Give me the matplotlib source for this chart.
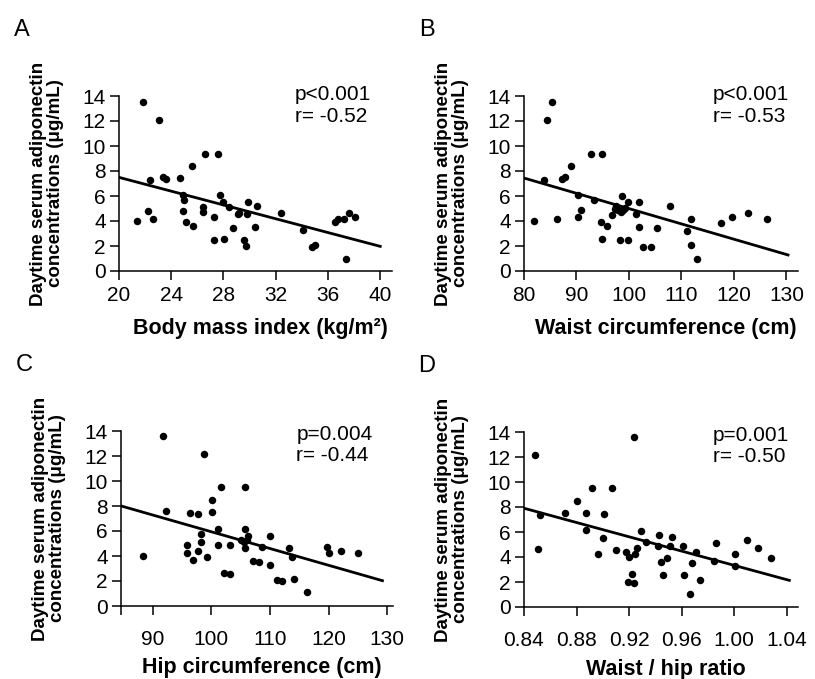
import numpy as np
import matplotlib
matplotlib.use('Agg')
import matplotlib.pyplot as plt

plt.rcParams['font.family'] = ['Liberation Sans', 'DejaVu Sans']

# panel A - body mass index
bmi = [21.8, 23.1, 21.4, 22.2, 22.6, 22.35, 23.4, 23.6, 24.7, 24.9, 25.0, 24.9, 25.1, 25.7, 25.6,
       26.4, 26.4, 26.6, 27.3, 27.3, 27.6, 27.7, 28.0, 28.4, 28.05, 28.7, 29.1, 29.2, 29.6, 29.7,
       29.8, 29.9, 30.4, 30.6, 32.4, 34.1, 34.8, 35.0, 36.5, 36.8, 37.2, 37.6, 38.1, 37.4]
adipo_a = [13.5, 12.1, 4.0, 4.8, 4.2, 7.3, 7.5, 7.4, 7.45, 6.1, 5.7, 4.8, 3.9, 3.6, 8.4,
           5.1, 4.75, 9.4, 4.3, 2.5, 9.4, 6.05, 5.55, 5.1, 2.55, 3.45, 4.55, 4.65, 2.5, 2.0,
           4.6, 5.5, 3.5, 5.2, 4.65, 3.25, 1.9, 2.1, 3.9, 4.15, 4.2, 4.65, 4.35, 1.0]

# panel B - waist circumference
waist = [81.9, 83.8, 84.3, 85.3, 86.3, 87.2, 87.9, 88.9, 90.3, 90.8, 90.3, 92.75, 94.8, 93.3, 94.7,
         95.8, 94.8, 96.8, 97.3, 97.6, 98.0, 98.8, 98.7, 99.8, 98.3, 99.8, 101.4, 101.9, 101.9, 102.7,
         104.2, 105.4, 107.9, 111.0, 111.9, 111.9, 113.0, 117.5, 119.7, 122.7, 126.3, 98.4, 99.2]
adipo_b = [4.0, 7.3, 12.1, 13.5, 4.2, 7.4, 7.5, 8.4, 6.1, 4.9, 4.35, 9.4, 9.4, 5.7, 3.9,
           3.6, 2.55, 4.5, 5.0, 5.2, 4.9, 4.85, 6.0, 5.55, 2.5, 2.5, 4.6, 5.55, 3.55, 1.95,
           1.9, 3.45, 5.2, 3.2, 4.2, 2.1, 1.0, 3.85, 4.35, 4.65, 4.2, 4.75, 5.05]

# panel C - hip circumference
hip = [88.4, 91.8, 92.3, 95.8, 95.8, 96.3, 96.8, 97.7, 97.8, 98.3, 98.3, 98.8, 99.2, 100.1, 100.2,
       101.2, 101.2, 101.7, 102.1, 103.2, 103.2, 105.0, 105.5, 106.1, 105.7, 105.7, 105.7, 106.2, 107.1, 108.2,
       108.7, 110.1, 110.1, 111.2, 112.1, 113.2, 113.7, 114.1, 116.3, 119.7, 120.1, 122.1, 125.1]
adipo_c = [4.0, 13.6, 7.6, 4.9, 4.25, 7.45, 3.65, 4.4, 7.4, 5.75, 5.15, 12.2, 3.95, 8.5, 7.55,
           6.2, 4.85, 9.55, 2.65, 2.55, 4.9, 5.25, 5.15, 5.3, 6.15, 9.55, 4.65, 5.6, 3.6, 3.5,
           4.75, 5.6, 3.3, 2.05, 2.0, 4.65, 3.95, 2.2, 1.1, 4.75, 4.25, 4.4, 4.25]

# panel D - waist / hip ratio
whr = [0.848, 0.851, 0.852, 0.871, 0.880, 0.887, 0.887, 0.8915, 0.896, 0.900, 0.901, 0.907, 0.910, 0.918, 0.920,
       0.922, 0.919, 0.924, 0.9235, 0.9245, 0.926, 0.929, 0.933, 0.942, 0.943, 0.944, 0.946, 0.949, 0.951, 0.953,
       0.961, 0.962, 0.966, 0.968, 0.971, 0.974, 0.985, 0.986, 1.001, 1.001, 1.010, 1.018, 1.028]
adipo_d = [12.2, 4.65, 7.4, 7.55, 8.5, 7.55, 6.2, 9.5, 4.25, 5.55, 7.45, 9.5, 4.6, 4.4, 4.0,
           2.65, 2.0, 1.95, 13.6, 4.25, 4.7, 6.1, 5.2, 4.9, 5.75, 3.6, 2.55, 3.95, 4.9, 5.6,
           4.85, 2.55, 1.05, 3.5, 4.4, 2.15, 3.65, 5.1, 4.25, 3.3, 5.35, 4.7, 3.95]

y_ticks = [0, 2, 4, 6, 8, 10, 12, 14]
x_ticks_a = [20, 24, 28, 32, 36, 40]
x_ticks_b = [80, 90, 100, 110, 120, 130]
x_ticks_c = [90, 100, 110, 120, 130]
x_ticks_d = [0.84, 0.88, 0.92, 0.96, 1.00, 1.04]
x_labels_d = ['0.84', '0.88', '0.92', '0.96', '1.00', '1.04']

W, H = 815, 679


def get_regression(x, y):
    fit = np.polyfit(x, y, 1)
    return np.poly1d(fit)


def make_axes(fig, left, right, top, bottom):
    return fig.add_axes([left / W, 1 - bottom / H, (right - left) / W, (bottom - top) / H])


panels = [
    # x, y, ticks, ticklabels, xlim, fit range, px box, letter, p, r, xlabel, tick pad
    (bmi, adipo_a, x_ticks_a, [str(t) for t in x_ticks_a], (20, 40.9), (20, 40),
     (119, 392, 96, 271), 'A', 'p<0.001', 'r= -0.52', 'Body mass index (kg/m²)', 4),
    (waist, adipo_b, x_ticks_b, [str(t) for t in x_ticks_b], (80, 132.2), (80, 130.3),
     (524, 798, 96, 271), 'B', 'p<0.001', 'r= -0.53', 'Waist circumference (cm)', 4),
    (hip, adipo_c, [84.6] + x_ticks_c, [''] + [str(t) for t in x_ticks_c], (84.6, 131), (84.6, 129.2),
     (121, 393, 431, 606), 'C', 'p=0.004', 'r= -0.44', 'Hip circumference (cm)', 11),
    (whr, adipo_d, x_ticks_d, x_labels_d, (0.84, 1.0486), (0.84, 1.042),
     (524, 798, 432, 607), 'D', 'p=0.001', 'r= -0.50', 'Waist / hip ratio', 11),
]

fig = plt.figure(figsize=(8.15, 6.79), dpi=100)

for x, y, xt, xtl, xlim, frange, box, letter, ptxt, rtxt, xlabel, pad in panels:
    left, right, top, bottom = box
    ax = make_axes(fig, left, right, top, bottom)
    ax.scatter(x, y, s=29, color='black', zorder=3, linewidths=0)
    fit_fn = get_regression(np.array(x), np.array(y))
    fx = np.array(frange)
    ax.plot(fx, fit_fn(fx), color='black', lw=2.0)

    ax.set_xlim(*xlim)
    ax.set_ylim(0, 14)
    ax.set_xticks(xt)
    ax.set_xticklabels(xtl)
    ax.set_yticks(y_ticks)
    ax.spines['top'].set_visible(False)
    ax.spines['right'].set_visible(False)
    for s in ('left', 'bottom'):
        ax.spines[s].set_linewidth(1.1)
    ax.tick_params(direction='out', length=6.5, width=1.1, labelsize=15)
    ax.tick_params(axis='x', pad=pad)
    ax.tick_params(axis='y', pad=3)

    ax.text(0.645 if letter in 'AC' else 0.69, 1.06 if letter in 'AB' else 1.035,
            ptxt + '\n' + rtxt, transform=ax.transAxes, ha='left', va='top',
            fontsize=15, linespacing=1.15)

    # panel letter
    fig.text((left - 97) / W, 1 - (top - 66) / H, letter, fontsize=17, ha='center', va='center')

    # y label
    fig.text((left - 72) / W, 1 - ((top + bottom) / 2) / H,
             'Daytime serum adiponectin\nconcentrations (μg/mL)',
             rotation=90, ha='center', va='center', multialignment='center',
             fontsize=13.5, fontweight='bold', linespacing=1.05)

    # x label
    xc = (left + right) / 2 + 5
    fig.text(xc / W, 1 - (bottom + 57 if letter in 'AB' else bottom + 62) / H, xlabel,
             ha='center', va='center', fontsize=15.5, fontweight='bold')

fig.savefig('out.png', dpi=100, facecolor='white')
